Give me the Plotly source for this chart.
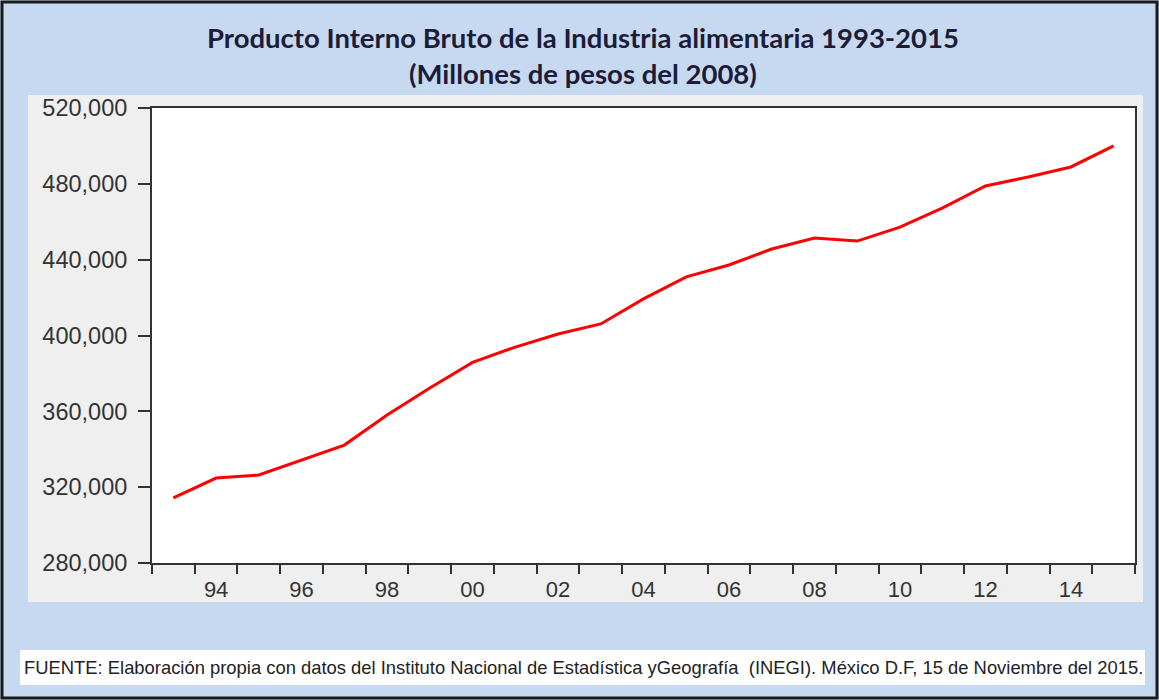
import plotly.graph_objects as go

# PIB de la industria alimentaria, millones de pesos del 2008
years = list(range(1993, 2016))
pib = [314300, 324800, 326400, 334300, 342200, 358100, 372300, 385800,
       393900, 400800, 406100, 419300, 430900, 437200, 445600, 451400,
       449800, 457200, 467300, 478900, 483600, 488900, 500000]

label_years = list(range(1994, 2015, 2))
label_text = [str(y)[2:] for y in label_years]
y_ticks = [280000, 320000, 360000, 400000, 440000, 480000, 520000]

W, H = 1159, 700
L, R, T, B = 152, 24, 108, 137


def px(x):
    # pixel x -> paper fraction
    return (x - L) / (W - L - R)


def py(y):
    # pixel y -> paper fraction
    return (H - B - y) / (H - T - B)


fig = go.Figure()
fig.add_trace(go.Scatter(
    x=years, y=pib, mode="lines",
    line=dict(color="#ff0000", width=3),
    hovertemplate="%{x}: %{y:,.0f}<extra></extra>",
    showlegend=False
))

shapes = [
    # gray chart panel
    dict(type="rect", xref="paper", yref="paper", layer="below",
         x0=px(28), x1=px(1143), y0=py(602), y1=py(95),
         fillcolor="#efefef", line=dict(width=0)),
    # white plot area on top of the panel
    dict(type="rect", xref="paper", yref="paper", layer="below",
         x0=0, x1=1, y0=0, y1=1,
         fillcolor="#ffffff", line=dict(width=0)),
    # caption box
    dict(type="rect", xref="paper", yref="paper", layer="below",
         x0=px(20), x1=px(1145), y0=py(685), y1=py(650),
         fillcolor="#ffffff", line=dict(width=0)),
    # outer frame
    dict(type="rect", xref="paper", yref="paper", layer="above",
         x0=px(2), x1=px(1157), y0=py(698), y1=py(2),
         line=dict(color="#1a1a1a", width=3)),
]

annotations = [
    dict(text="<b>Producto Interno Bruto de la Industria alimentaria 1993-2015</b>",
         xref="paper", yref="paper", x=px(583), y=py(37), showarrow=False,
         xanchor="center", yanchor="middle",
         font=dict(family="Lato", size=27.5, color="#1c1c38")),
    dict(text="<b>(Millones de pesos del 2008)</b>",
         xref="paper", yref="paper", x=px(583), y=py(73), showarrow=False,
         xanchor="center", yanchor="middle",
         font=dict(family="Lato", size=27.5, color="#1c1c38")),
    dict(text="FUENTE: Elaboración propia con datos del Instituto Nacional de Estadística "
              "yGeografía  (INEGI). México D.F, 15 de Noviembre del 2015.",
         xref="paper", yref="paper", x=px(22), y=py(667), showarrow=False,
         xanchor="left", yanchor="middle",
         font=dict(family="Liberation Sans", size=18.4, color="#222222")),
]

fig.update_layout(
    width=W, height=H,
    margin=dict(l=L, r=R, t=T, b=B),
    paper_bgcolor="#c6d9f0",
    plot_bgcolor="#ffffff",
    shapes=shapes,
    annotations=annotations,
    xaxis=dict(
        range=[1992.5, 2015.5],
        tickvals=label_years, ticktext=label_text,
        ticks="", showgrid=False, zeroline=False,
        showline=True, mirror=True, linecolor="#333333", linewidth=2,
        ticklabelstandoff=6,
        tickfont=dict(family="Liberation Sans", size=22, color="#333333"),
        minor=dict(tickvals=[y - 0.5 for y in years] + [2015.5],
                   ticks="outside", ticklen=9, tickwidth=2, tickcolor="#333333",
                   showgrid=False),
    ),
    yaxis=dict(
        range=[280000, 520000],
        tickvals=y_ticks, tickformat=",d",
        ticks="outside", ticklen=12, tickwidth=2, tickcolor="#333333",
        ticklabelstandoff=6,
        showgrid=False, zeroline=False,
        showline=True, mirror=True, linecolor="#333333", linewidth=2,
        tickfont=dict(family="Liberation Sans", size=23.5, color="#333333"),
    ),
)

fig.write_html("out.html", config={"displayModeBar": False},
               post_script="document.body.style.margin='0';")
